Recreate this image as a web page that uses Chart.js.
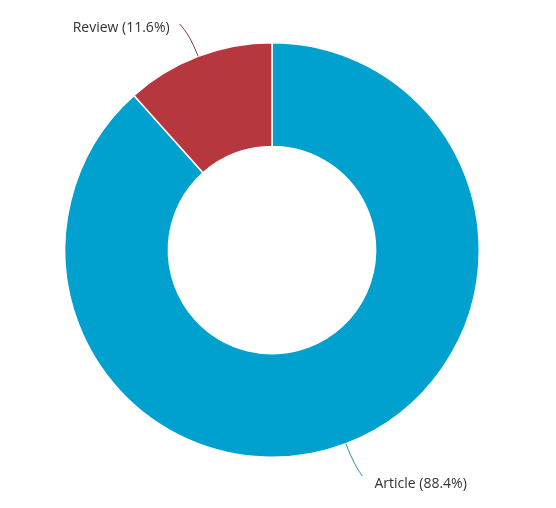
<!DOCTYPE html>
<html>
<head>
<meta charset="utf-8">
<script src="https://cdn.jsdelivr.net/npm/chart.js@4.4.1/dist/chart.umd.min.js"></script>
<style>
  html, body { margin: 0; padding: 0; background: #fff; }
  #wrap { width: 556px; height: 508px; }
</style>
</head>
<body>
<div id="wrap"><canvas id="chart" width="556" height="508"></canvas></div>
<script>
const categories = ['Article', 'Review'];
const shares = [88.4, 11.6];
const sliceColors = ['#00a0cf', '#b7373e'];
const lineColors = ['#2f8fb5', '#8a3a40'];

// draws the outside labels with a curved leader line
const leaderLabels = {
  id: 'leaderLabels',
  afterDraw(chart) {
    const ctx = chart.ctx;
    const arcs = chart.getDatasetMeta(0).data;
    ctx.save();
    ctx.font = '14px "Open Sans", "Noto Sans", sans-serif';
    ctx.fillStyle = '#333333';
    arcs.forEach((arc, i) => {
      const mid = (arc.startAngle + arc.endAngle) / 2;
      const cx = arc.x, cy = arc.y, r = arc.outerRadius;
      const dx = Math.cos(mid), dy = Math.sin(mid);
      const sx = cx + dx * r, sy = cy + dy * r;
      const px = cx + dx * (r + 24), py = cy + dy * (r + 24);
      const side = dx < 0 ? -1 : 1;
      const up = dy < 0;
      const ex = px + side * (up ? 10 : 8), ey = py + (up ? -10 : 10);
      ctx.beginPath();
      ctx.moveTo(sx, sy);
      ctx.quadraticCurveTo(px, py, ex, ey);
      ctx.strokeStyle = lineColors[i];
      ctx.lineWidth = 1;
      ctx.stroke();
      const text = categories[i] + ' (' + shares[i].toFixed(1) + '%)';
      ctx.textBaseline = 'middle';
      if (side < 0) {
        ctx.textAlign = 'right';
        ctx.fillText(text, ex - 10, ey + 4);
      } else {
        ctx.textAlign = 'left';
        ctx.fillText(text, ex + 12, ey + 8);
      }
    });
    ctx.restore();
  }
};

new Chart(document.getElementById('chart'), {
  type: 'doughnut',
  data: {
    labels: categories,
    datasets: [{
      data: shares,
      backgroundColor: sliceColors,
      borderColor: '#ffffff',
      borderWidth: 1.5
    }]
  },
  options: {
    responsive: false,
    animation: false,
    cutout: '50%',
    layout: { padding: { left: 64, right: 76, top: 42, bottom: 50 } },
    plugins: {
      legend: { display: false },
      tooltip: { enabled: false }
    }
  },
  plugins: [leaderLabels]
});
</script>
</body>
</html>
